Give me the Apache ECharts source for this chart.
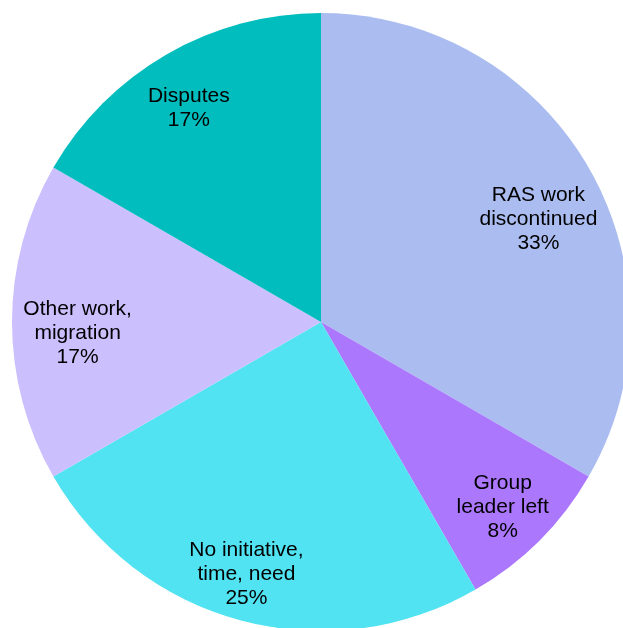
<!DOCTYPE html>
<html>
<head>
<meta charset="utf-8">
<script src="https://cdn.jsdelivr.net/npm/echarts@6/dist/echarts.min.js"></script>
<style>
  html, body { margin: 0; padding: 0; background: #ffffff; }
  #chart { width: 623px; height: 628px; }
</style>
</head>
<body>
<div id="chart"></div>
<script>
// Reasons, clockwise from 12 o'clock
const categories = [
  'RAS work\ndiscontinued',
  'Group\nleader left',
  'No initiative,\ntime, need',
  'Other work,\nmigration',
  'Disputes'
];
const counts = [4, 1, 3, 2, 2];
const sliceColors = ['#abbdf0', '#ab77fd', '#51e3f1', '#cbbffe', '#02bdbe'];

// Pie geometry
const CX = 321, CY = 322, R = 309;
const labelRadius = 0.82;
// small nudges so labels sit clear of the slice edges
const labelShift = [[-2, 23.5], [2.5, 6], [-9, 7], [10, 11], [-5.5, 6]];

const total = counts.reduce((a, b) => a + b, 0);
const midAngles = [];
let acc = 0;
counts.forEach(v => {
  midAngles.push(((acc + v / 2) / total) * Math.PI * 2);
  acc += v;
});

const chart = echarts.init(document.getElementById('chart'));
chart.setOption({
  animation: false,
  series: [{
    type: 'pie',
    center: [CX, CY],
    radius: R,
    startAngle: 90,
    clockwise: true,
    avoidLabelOverlap: false,
    itemStyle: { borderWidth: 0 },
    emphasis: { disabled: true },
    label: {
      show: true,
      position: 'inside',
      color: '#000000',
      fontFamily: 'Liberation Sans, Arial, sans-serif',
      fontSize: 21,
      lineHeight: 24,
      align: 'center',
      formatter: p => p.name + '\n' + Math.round(p.percent) + '%'
    },
    labelLine: { show: false },
    labelLayout: function (params) {
      const i = params.dataIndex;
      const a = midAngles[i];
      return {
        x: CX + labelRadius * R * Math.sin(a) + labelShift[i][0],
        y: CY - labelRadius * R * Math.cos(a) + labelShift[i][1],
        align: 'center',
        verticalAlign: 'middle'
      };
    },
    data: categories.map((name, i) => ({
      name: name,
      value: counts[i],
      itemStyle: { color: sliceColors[i] }
    }))
  }]
});
</script>
</body>
</html>
